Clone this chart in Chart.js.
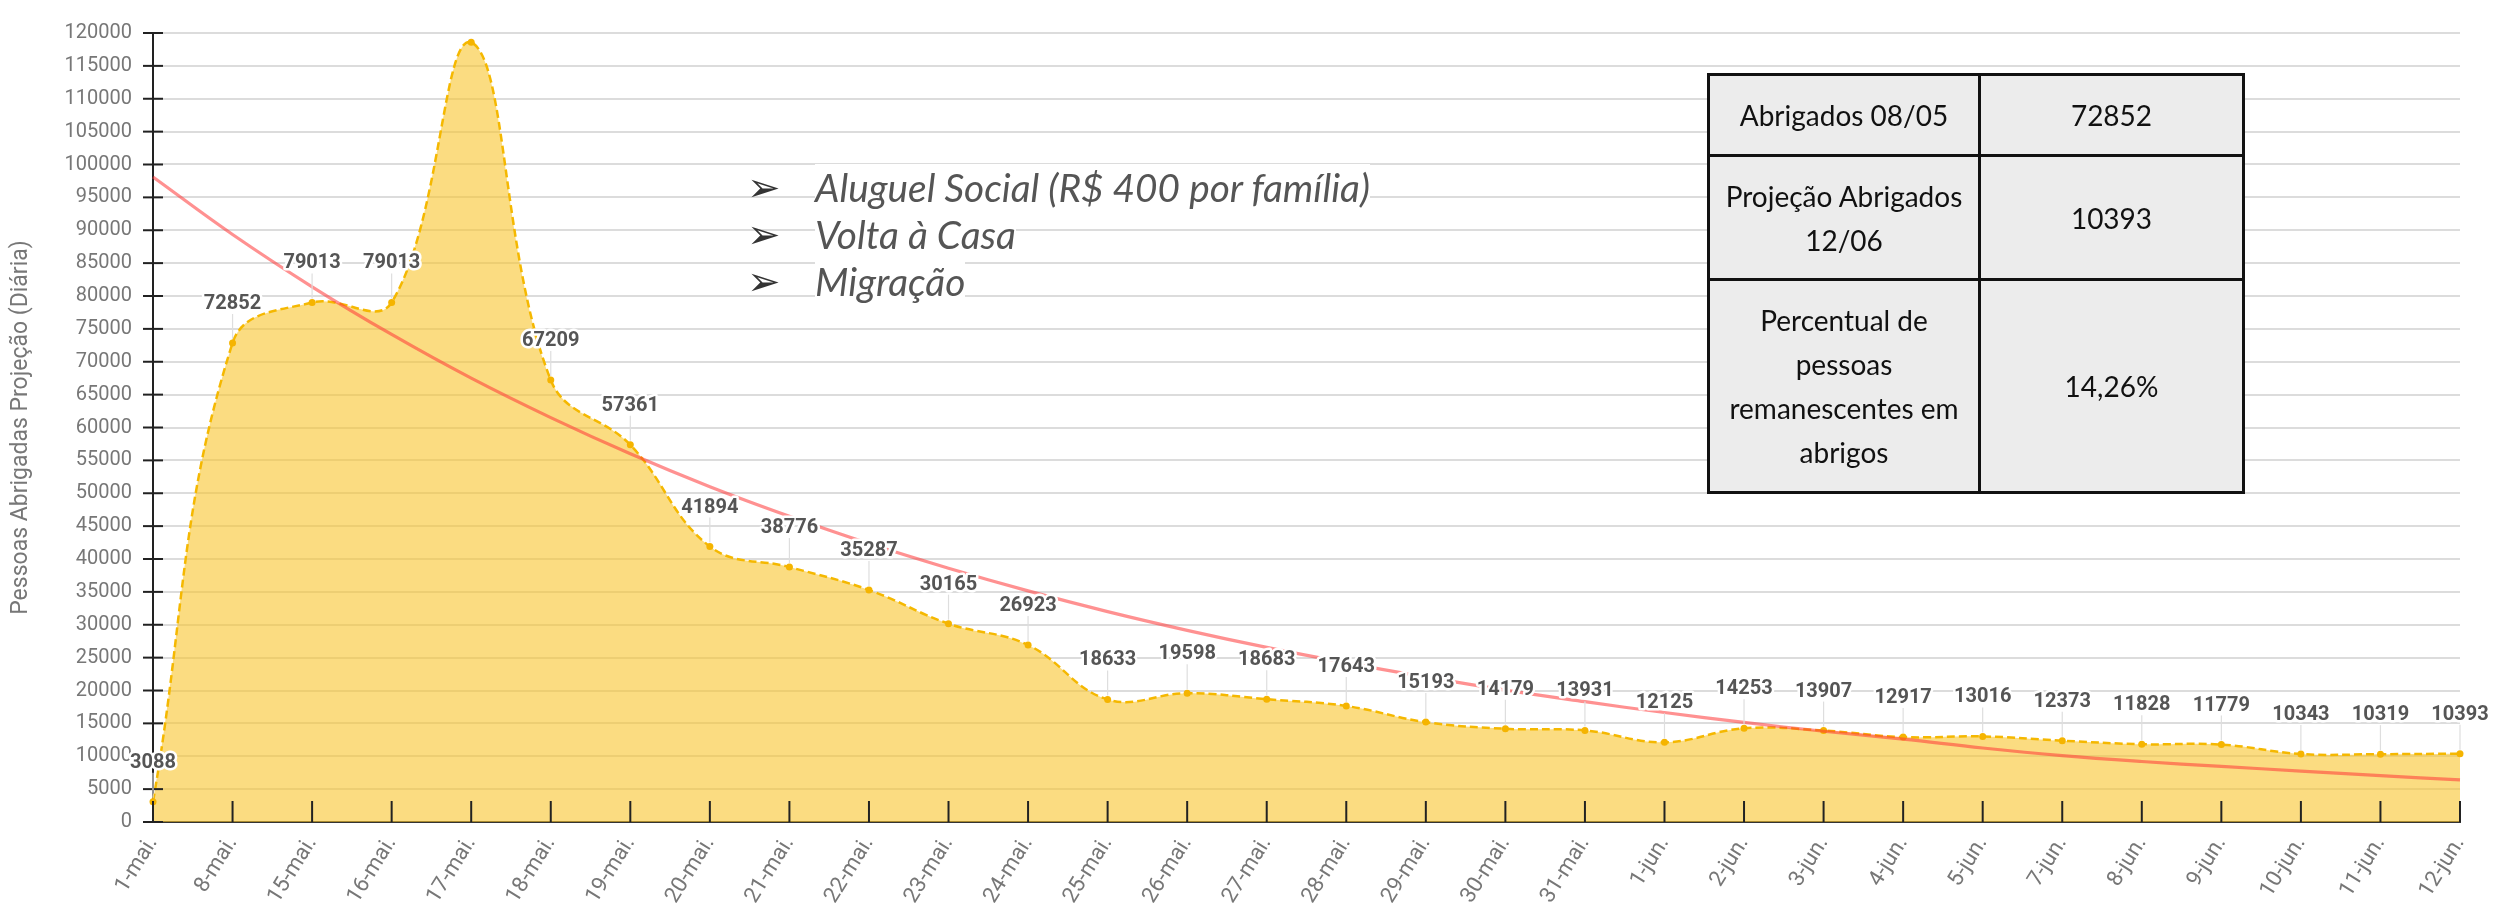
<!DOCTYPE html>
<html>
<head>
<meta charset="utf-8">
<script src="https://cdn.jsdelivr.net/npm/chart.js@4.4.1/dist/chart.umd.min.js"></script>
<style>
  html, body { margin: 0; padding: 0; background: #fff; }
  #wrap { position: relative; width: 2494px; height: 905px; overflow: hidden; }
  #notas {
    position: absolute; left: 747px; top: 164px;
    font-family: Lato, "Open Sans", sans-serif; font-style: italic;
    font-size: 35px; color: #555;
  }
  #notas div { height: 47px; line-height: 47px; white-space: nowrap; }
  #notas .seta { display: inline-block; width: 68px; font-style: normal; font-family: "DejaVu Sans"; font-size: 40px; color: #333; vertical-align: top; }
  #notas .txt { background: #fff; }
  #tabela {
    position: absolute; left: 1707px; top: 73px; width: 538px;
    border-collapse: collapse; font-family: Lato, "Open Sans", sans-serif;
    font-size: 28px; line-height: 44px; color: #111;
  }
  #tabela td { border: 3px solid #111; background: #ececec; text-align: center; vertical-align: middle; padding: 0; }
</style>
</head>
<body>
<div id="wrap">
  <canvas id="grafico" width="2494" height="905"></canvas>
  <div id="notas">
    <div><span class="seta">➢</span><span class="txt" id="nota1">Aluguel Social (R$ 400 por família)</span></div>
    <div><span class="seta">➢</span><span class="txt">Volta à Casa</span></div>
    <div><span class="seta">➢</span><span class="txt">Migração</span></div>
  </div>
  <table id="tabela">
    <tr style="height:81px"><td style="width:268px">Abrigados 08/05</td><td>72852</td></tr>
    <tr style="height:124px"><td>Projeção Abrigados<br>12/06</td><td>10393</td></tr>
    <tr style="height:213px"><td>Percentual de<br>pessoas<br>remanescentes em<br>abrigos</td><td>14,26%</td></tr>
  </table>
</div>
<script>
const categorias = ["1-mai.", "8-mai.", "15-mai.", "16-mai.", "17-mai.", "18-mai.", "19-mai.", "20-mai.",
  "21-mai.", "22-mai.", "23-mai.", "24-mai.", "25-mai.", "26-mai.", "27-mai.", "28-mai.", "29-mai.",
  "30-mai.", "31-mai.", "1-jun.", "2-jun.", "3-jun.", "4-jun.", "5-jun.", "7-jun.", "8-jun.", "9-jun.",
  "10-jun.", "11-jun.", "12-jun."];

const abrigados = [3088, 72852, 79013, 79013, 118600, 67209, 57361, 41894, 38776, 35287, 30165, 26923,
  18633, 19598, 18683, 17643, 15193, 14179, 13931, 12125, 14253, 13907, 12917, 13016, 12373, 11828,
  11779, 10343, 10319, 10393];

// curva de tendência
const tendencia = [98100, 89350, 81400, 74150, 67500, 61500, 56000, 51000, 46500, 42350, 38600, 35150,
  32000, 29150, 26550, 24200, 22050, 20050, 18300, 16650, 15150, 13800, 12600, 11250, 10100, 9200,
  8450, 7750, 7050, 6400];

const yMax = 120000;
const yPasso = 2500;
const yRotulo = 5000;

// ajusta a largura da primeira nota
const nota = document.getElementById("nota1");
const larguraNota = 555;
const fs = 35 * larguraNota / nota.getBoundingClientRect().width;
document.getElementById("notas").style.fontSize = fs.toFixed(1) + "px";

// marcas dos eixos (cruzando o eixo y, para cima no eixo x)
const marcas = {
  id: "marcas",
  afterDatasetsDraw(chart) {
    const { ctx, chartArea, scales: { x, y } } = chart;
    ctx.save();
    ctx.strokeStyle = "#222";
    ctx.lineWidth = 2;
    y.ticks.forEach(t => {
      if (t.value % yRotulo) return;
      const py = y.getPixelForValue(t.value);
      ctx.beginPath();
      ctx.moveTo(chartArea.left - 10, py);
      ctx.lineTo(chartArea.left + 10, py);
      ctx.stroke();
    });
    x.ticks.forEach(t => {
      const px = x.getPixelForValue(t.value);
      ctx.beginPath();
      ctx.moveTo(px, chartArea.bottom);
      ctx.lineTo(px, chartArea.bottom - 21);
      ctx.stroke();
    });
    ctx.restore();
  }
};

// rótulos de valor com linha guia
const rotulos = {
  id: "rotulos",
  afterDatasetsDraw(chart) {
    const { ctx, chartArea } = chart;
    const meta = chart.getDatasetMeta(0);
    ctx.save();
    ctx.font = "bold 20px Roboto";
    ctx.textAlign = "center";
    ctx.textBaseline = "middle";
    meta.data.forEach((pt, i) => {
      const ly = pt.y - 39;
      if (ly < chartArea.top) return;
      const txt = String(abrigados[i]);
      ctx.strokeStyle = "#dedede";
      ctx.lineWidth = 1.2;
      ctx.beginPath();
      ctx.moveTo(pt.x, ly + 10);
      ctx.lineTo(pt.x, pt.y - 4);
      ctx.stroke();
      ctx.lineJoin = "round";
      ctx.strokeStyle = "#fff";
      ctx.lineWidth = 5;
      ctx.strokeText(txt, pt.x, ly);
      ctx.fillStyle = "#555";
      ctx.fillText(txt, pt.x, ly);
    });
    ctx.restore();
  }
};

const ctx = document.getElementById("grafico").getContext("2d");
const chart = new Chart(ctx, {
  type: "line",
  data: {
    labels: categorias,
    datasets: [{
      label: "Abrigados",
      data: abrigados,
      order: 1,
      fill: "origin",
      backgroundColor: "rgba(248, 197, 45, 0.6)",
      borderColor: "#f5b800",
      borderWidth: 2.5,
      borderDash: [8, 4],
      tension: 0.4,
      pointRadius: 3.5,
      pointBackgroundColor: "#f5b400",
      pointBorderWidth: 0
    }, {
      label: "Tendência",
      data: tendencia,
      order: 0,
      fill: false,
      borderColor: "rgba(255, 55, 55, 0.55)",
      borderWidth: 3.2,
      tension: 0.4,
      pointRadius: 0
    }]
  },
  plugins: [marcas, rotulos],
  options: {
    responsive: false,
    animation: false,
    devicePixelRatio: 1,
    layout: { padding: { top: 19, right: 34, left: 0, bottom: 0 } },
    plugins: {
      legend: { display: false },
      tooltip: { enabled: false }
    },
    scales: {
      x: {
        offset: false,
        grid: { display: false, drawTicks: false },
        border: { color: "#333", width: 2 },
        ticks: {
          autoSkip: false,
          maxRotation: 58,
          minRotation: 58,
          padding: 10,
          color: "#777",
          font: { family: "Roboto", size: 22 }
        },
        afterFit(s) { s.height = 83; }
      },
      y: {
        min: 0,
        max: yMax,
        grid: {
          drawTicks: false,
          lineWidth: 2,
          color: c => (c.tick.value % yRotulo === 0 ? "#dcdcdc" : "#ededed")
        },
        border: { color: "#222", width: 2 },
        ticks: {
          stepSize: yPasso,
          padding: 21,
          color: "#777",
          font: { family: "Roboto", size: 20 },
          callback: v => (v % yRotulo === 0 ? String(v) : "")
        },
        title: {
          display: true,
          text: "Pessoas Abrigadas Projeção (Diária)",
          color: "#777",
          font: { family: "Roboto", size: 23 },
          padding: { top: 7, bottom: 0 }
        },
        afterFit(s) { s.width = 153; }
      }
    }
  }
});
</script>
</body>
</html>
